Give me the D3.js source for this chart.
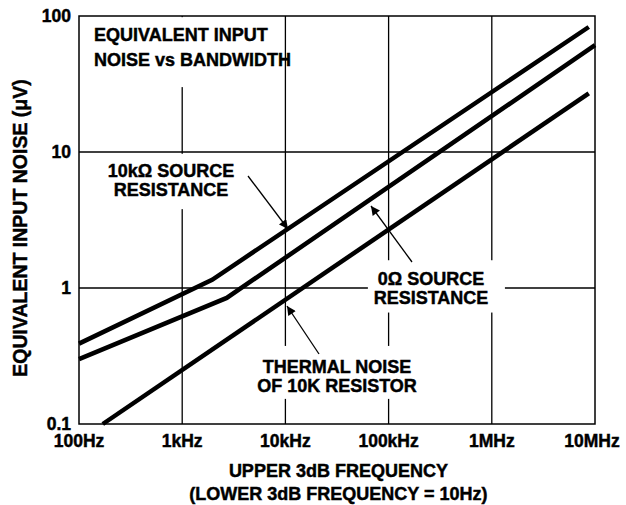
<!DOCTYPE html>
<html>
<head>
<meta charset="utf-8">
<script src="https://cdn.jsdelivr.net/npm/d3@7"></script>
<style>
    body { margin: 0; background: #fff; }
    text { font-family: "Liberation Sans", Arial, sans-serif; font-weight: bold; fill: #000; stroke: #000; stroke-width: 0.45px; }
</style>
</head>
<body>
<div id="chart_noise"></div>
<script>
// axis ticks
var freqTicks = [100, 1e3, 1e4, 1e5, 1e6, 1e7],
    freqLabels = ["100Hz", "1kHz", "10kHz", "100kHz", "1MHz", "10MHz"],
    noiseTicks = [0.1, 1, 10, 100],
    noiseLabels = ["0.1", "1", "10", "100"];

// curves (Hz, uV)
var src10kFreq = [100, 1950, 8.7e6],
    src10kNoise = [0.39, 1.15, 83],
    src0Freq = [100, 2700, 1e7],
    src0Noise = [0.30, 0.845, 61],
    thermalFreq = [170, 8.7e6],
    thermalNoise = [0.1, 27];

var width = 626, height = 505,
    margin = {top: 16, right: 31, bottom: 81, left: 79};

var svg = d3.select("#chart_noise").append("svg")
    .attr("width", width)
    .attr("height", height);

var x = d3.scaleLog().domain([100, 1e7]).range([margin.left, width - margin.right]);
var y = d3.scaleLog().domain([0.1, 100]).range([height - margin.bottom, margin.top]);

svg.append("defs").append("marker")
    .attr("id", "arrow")
    .attr("viewBox", "0 0 10 10")
    .attr("refX", 10).attr("refY", 5)
    .attr("markerUnits", "userSpaceOnUse")
    .attr("markerWidth", 13).attr("markerHeight", 9)
    .attr("orient", "auto")
    .append("path")
    .attr("d", "M0,0L10,5L0,10z")
    .attr("fill", "#000");

// grid
svg.selectAll(".vgrid")
    .data(freqTicks.slice(1, -1))
    .enter().append("line")
    .attr("x1", function (d) { return x(d); })
    .attr("x2", function (d) { return x(d); })
    .attr("y1", y(100)).attr("y2", y(0.1))
    .attr("stroke", "#000").attr("stroke-width", 1.3);

svg.selectAll(".hgrid")
    .data(noiseTicks.slice(1, -1))
    .enter().append("line")
    .attr("x1", x(100)).attr("x2", x(1e7))
    .attr("y1", function (d) { return y(d); })
    .attr("y2", function (d) { return y(d); })
    .attr("stroke", "#000").attr("stroke-width", 1.3);

// white patches behind the labels
var boxes = [
    [x(102), y(98), x(5.5e3), y(30)],
    [x(150), y(9.7), x(4e3), y(3.8)],
    [x(6.3e4), y(1.6), x(1.34e6), y(0.66)],
    [x(4e3), y(0.375), x(2.2e5), y(0.153)]
];
svg.selectAll(".box")
    .data(boxes)
    .enter().append("rect")
    .attr("x", function (d) { return d[0]; })
    .attr("y", function (d) { return d[1]; })
    .attr("width", function (d) { return d[2] - d[0]; })
    .attr("height", function (d) { return d[3] - d[1]; })
    .attr("fill", "#fff");

svg.append("rect")
    .attr("x", x(100)).attr("y", y(100))
    .attr("width", x(1e7) - x(100))
    .attr("height", y(0.1) - y(100))
    .attr("fill", "none")
    .attr("stroke", "#000").attr("stroke-width", 1.5);

// curves
var line = d3.line()
    .x(function (d) { return x(d[0]); })
    .y(function (d) { return y(d[1]); });

[[src10kFreq, src10kNoise], [src0Freq, src0Noise], [thermalFreq, thermalNoise]].forEach(function (s) {
    svg.append("path")
        .datum(d3.zip(s[0], s[1]))
        .attr("d", line)
        .attr("fill", "none")
        .attr("stroke", "#000")
        .attr("stroke-width", 4.5)
        .attr("stroke-linejoin", "miter");
});

// ticks
svg.selectAll(".xlab")
    .data(freqTicks)
    .enter().append("text")
    .attr("x", function (d, i) { return x(d) + (i == 5 ? -3 : 0); })
    .attr("y", 447)
    .attr("text-anchor", "middle")
    .style("font-size", "17.5px")
    .text(function (d, i) { return freqLabels[i]; });

svg.selectAll(".ylab")
    .data(noiseTicks)
    .enter().append("text")
    .attr("x", 71)
    .attr("y", function (d) { return y(d); })
    .attr("dy", "0.33em")
    .attr("text-anchor", "end")
    .style("font-size", "17.5px")
    .text(function (d, i) { return noiseLabels[i]; });

// axis titles
svg.append("text")
    .attr("transform", "translate(27," + 228 + ") rotate(-90)")
    .attr("text-anchor", "middle")
    .style("font-size", "19.5px")
    .text("EQUIVALENT INPUT NOISE (\u03BCV)");

svg.append("text")
    .attr("x", x(1e4) + 53).attr("y", 477)
    .attr("text-anchor", "middle")
    .style("font-size", "18px")
    .text("UPPER 3dB FREQUENCY");
svg.append("text")
    .attr("x", x(1e4) + 53).attr("y", 500)
    .attr("text-anchor", "middle")
    .style("font-size", "18px")
    .text("(LOWER 3dB FREQUENCY = 10Hz)");

// labels
function label(lines, px, py, anchor) {
    lines.forEach(function (t, i) {
        svg.append("text")
            .attr("x", px).attr("y", py + i * 25 * (anchor == "start" ? 1 : 0.74))
            .attr("text-anchor", anchor)
            .style("font-size", "18px")
            .text(t);
    });
}
label(["EQUIVALENT INPUT", "NOISE vs BANDWIDTH"], 94, 41, "start");
label(["10k\u03A9 SOURCE", "RESISTANCE"], 171, 177, "middle");
label(["0\u03A9 SOURCE", "RESISTANCE"], 431, 285, "middle");
label(["THERMAL NOISE", "OF 10K RESISTOR"], 337, 373, "middle");

// arrows
var arrows = [[248, 176, 288, 229], [412, 262, 371, 206], [319, 354, 287, 306]];
svg.selectAll(".arrow")
    .data(arrows)
    .enter().append("line")
    .attr("x1", function (d) { return d[0]; })
    .attr("y1", function (d) { return d[1]; })
    .attr("x2", function (d) { return d[2]; })
    .attr("y2", function (d) { return d[3]; })
    .attr("stroke", "#000").attr("stroke-width", 1.3)
    .attr("marker-end", "url(#arrow)");
</script>
</body>
</html>
